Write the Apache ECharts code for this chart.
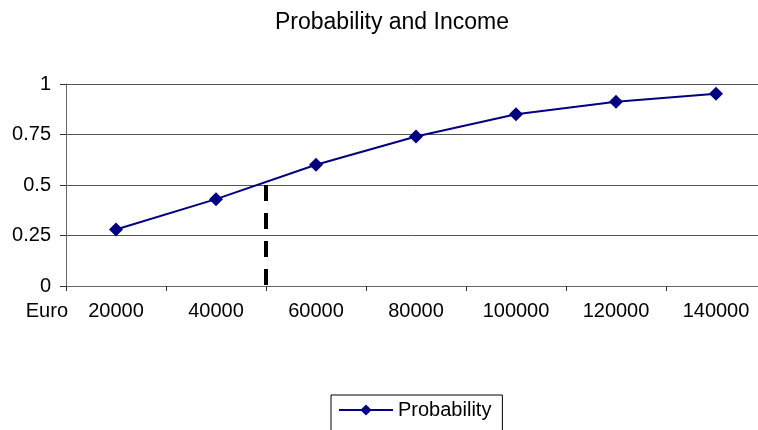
<!DOCTYPE html>
<html>
<head>
<meta charset="utf-8">
<script src="https://cdn.jsdelivr.net/npm/echarts@6/dist/echarts.min.js"></script>
<style>html,body{margin:0;padding:0;background:#fff;}#c{width:758px;height:430px;}</style>
</head>
<body>
<div id="c"></div>
<script>
const categories = ['20000','40000','60000','80000','100000','120000','140000'];
const probability = [0.28, 0.43, 0.60, 0.74, 0.85, 0.912, 0.952];
const yTicks = [0, 0.25, 0.5, 0.75, 1];
const markerIncome = 50000;
const markerTop = 0.5;

const chart = echarts.init(document.getElementById('c'));
const font = 'Liberation Sans, Arial, sans-serif';
chart.setOption({
  animation: false,
  backgroundColor: '#fff',
  title: {
    text: 'Probability and Income',
    left: 270, top: 6,
    textStyle: { fontFamily: font, fontSize: 23, fontWeight: 'normal', color: '#000' }
  },
  legend: {
    data: ['Probability'],
    left: 331, top: 395,
    orient: 'horizontal',
    itemWidth: 54, itemHeight: 14, itemGap: 5,
    padding: [5, 11, 20, 7],
    borderColor: '#000', borderWidth: 1,
    textStyle: { fontFamily: font, fontSize: 20, color: '#000' }
  },
  grid: { left: 66, top: 84, width: 700, bottom: 144, containLabel: false, outerBoundsMode: 'none' },
  xAxis: [{
    type: 'category',
    data: categories,
    boundaryGap: true,
    name: 'Euro',
    nameLocation: 'start',
    nameGap: -2,
    nameTextStyle: { fontFamily: font, fontSize: 20, color: '#000', verticalAlign: 'top', padding: [15, 0, 0, 0] },
    axisLine: { lineStyle: { color: '#666', width: 1 } },
    axisTick: { show: true, length: 5, lineStyle: { color: '#333' } },
    axisLabel: { fontFamily: font, fontSize: 20, color: '#000', margin: 15 },
    splitLine: { show: false }
  }, {
    type: 'value',
    min: 10000, max: 150000,
    show: false
  }],
  yAxis: {
    type: 'value',
    min: 0, max: 1, interval: 0.25,
    axisLine: { show: true, lineStyle: { color: '#666', width: 1 } },
    axisTick: { show: true, length: 6, lineStyle: { color: '#333' } },
    axisLabel: {
      fontFamily: font, fontSize: 20, color: '#000', margin: 15,
      formatter: v => yTicks.indexOf(v) >= 0 ? String(v) : ''
    },
    splitLine: { show: true, lineStyle: { color: '#555', width: 1 } }
  },
  series: [{
    name: 'Probability',
    type: 'line',
    data: probability,
    symbol: 'diamond',
    symbolSize: 14,
    color: '#000080',
    lineStyle: { color: '#000080', width: 2 },
    itemStyle: { color: '#000080' },
    z: 3
  }, {
    name: 'marker',
    type: 'line',
    xAxisIndex: 1,
    data: [[markerIncome, markerTop], [markerIncome, 0]],
    symbol: 'none',
    silent: true,
    lineStyle: { color: '#000', width: 4, type: [16, 12], cap: 'butt' },
    z: 2
  }]
});
</script>
</body>
</html>
